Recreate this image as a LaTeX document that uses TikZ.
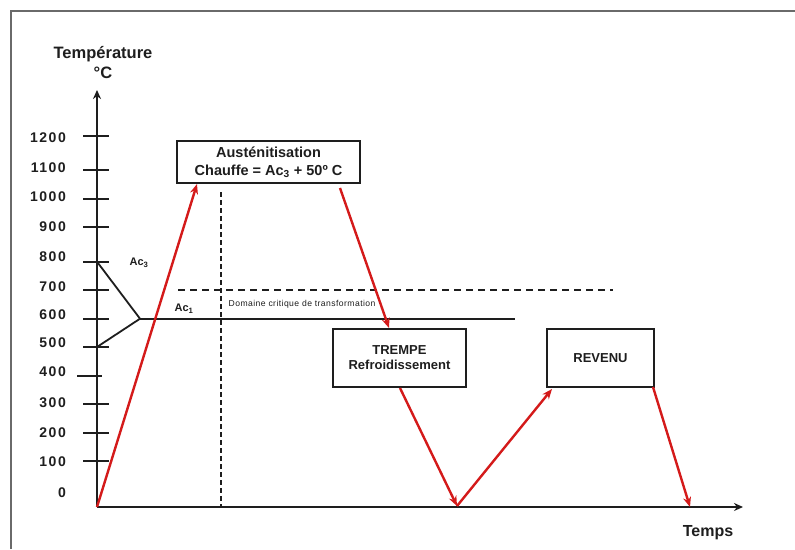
\documentclass[tikz,border=0pt]{standalone}
\usepackage{fontspec}
\setmainfont{Liberation Sans}
\newfontfamily\widesans[LetterSpace=11]{Liberation Sans}
\newfontfamily\domsans[LetterSpace=5]{Liberation Sans}
\usetikzlibrary{arrows.meta}
\definecolor{redline}{HTML}{D41A1A}
\definecolor{framegray}{HTML}{6A6A6A}
\definecolor{ink}{HTML}{1E1E1E}
\tikzset{
  axis/.style={line width=1.8pt, draw=ink, -{Stealth[length=9pt,width=8pt]}},
  tick/.style={line width=1.8pt, draw=ink},
  ticklbl/.style={anchor=east, inner sep=0pt, font=\widesans\fontsize{14}{16}\selectfont\bfseries, text=ink},
  phase/.style={draw=ink, line width=2pt, inner sep=0pt, align=center, text=ink},
  redarr/.style={draw=redline, line width=2.4pt, -{Stealth[length=10pt,width=8pt]}},
  blk/.style={draw=ink, line width=1.8pt},
  hdashline/.style={draw=ink, line width=1.8pt, dash pattern=on 7pt off 5pt},
  vdashline/.style={draw=ink, line width=1.8pt, dash pattern=on 5pt off 3pt},
}
\begin{document}
\begin{tikzpicture}[x=1pt,y=-1pt]
\useasboundingbox (0,0) rectangle (795,549);
\fill[white] (0,0) rectangle (795,549);
% frame
\draw[framegray, line width=2pt] (11,549) -- (11,10.5) -- (795,10.5);

% axes
\coordinate (O) at (97,507);
\coordinate (ytop) at (97,90);
\coordinate (xend) at (743,507);
\draw[axis] (O) -- (ytop);
\draw[axis] (O) -- (xend);

\node[font=\fontsize{16.5}{20}\selectfont\bfseries, text=ink, align=center] (ylab) at (103,63) {Température\\°C};
\node[font=\fontsize{16}{18}\selectfont\bfseries, text=ink] (xlab) at (708,533) {Temps};

% ticks
\foreach \v/\ty/\ly in {1200/136/138, 1000/198.7/197, 900/227/227, 800/261.7/257, 700/290/287, 600/318.7/315, 500/347/342.7, 300/404/403, 200/432.7/432.7, 100/461/461.7}{
  \draw[tick] (83,\ty) -- (109,\ty);
  \node[ticklbl] (t\v) at (66,\ly) {\v};
}
\draw[tick, line width=2.8pt] (83,170) -- (109,170);
\node[ticklbl] (t1100) at (66,168) {1100};
\draw[tick] (77,376) -- (102,376);
\node[ticklbl] (t400) at (66,371.7) {400};
\node[ticklbl] (t0) at (66,493) {0};

% Ac3 / Ac1 lines
\coordinate (ac3top) at (97,261.7);
\coordinate (ac3bot) at (97,347);
\coordinate (acmeet) at (140,318.7);
\coordinate (ac1end) at (515,318.7);
\draw[blk] (ac3top) -- (acmeet) -- (ac3bot);
\draw[blk] (acmeet) -- (ac1end);
\node[font=\fontsize{11}{13}\selectfont\bfseries, text=ink] (ac3) at (139,263) {Ac\textsubscript{3}};
\node[font=\fontsize{11}{13}\selectfont\bfseries, text=ink] (ac1) at (184,309) {Ac\textsubscript{1}};

% dashed lines
\coordinate (dh1) at (178,290);
\coordinate (dh2) at (613,290);
\draw[hdashline] (dh1) -- (dh2);
\coordinate (dv1) at (221,192);
\coordinate (dv2) at (221,507);
\draw[vdashline] (dv1) -- (dv2);
\node[font=\domsans\fontsize{8.6}{10}\selectfont, text=ink, anchor=west, inner sep=0pt] (dom) at (228.5,304) {Domaine critique de transformation};

% boxes
\node[phase, minimum width=183pt, minimum height=42pt, font=\fontsize{14.5}{18}\selectfont\bfseries] (aus) at (268.5,162) {Austénitisation\\Chauffe = Ac\textsubscript{3} + 50º C};
\node[phase, minimum width=133pt, minimum height=58pt, font=\fontsize{13}{15}\selectfont\bfseries] (trempe) at (399.5,358) {TREMPE\\Refroidissement};
\node[phase, minimum width=107pt, minimum height=58pt, font=\fontsize{13}{15}\selectfont\bfseries] (revenu) at (600.5,358) {REVENU};

% red path
\coordinate (r1) at (197,184);
\coordinate (r2a) at (340,188);
\coordinate (r2b) at (389,328);
\coordinate (r3a) at (400,388);
\coordinate (r3b) at (457,506);
\coordinate (r4b) at (552,389);
\coordinate (r5a) at (653,387);
\coordinate (r5b) at (690,507);
\draw[redarr] (O) -- (r1);
\draw[redarr] (r2a) -- (r2b);
\draw[redarr] (r3a) -- (r3b);
\draw[redarr] (r3b) -- (r4b);
\draw[redarr] (r5a) -- (r5b);
\end{tikzpicture}
\end{document}
